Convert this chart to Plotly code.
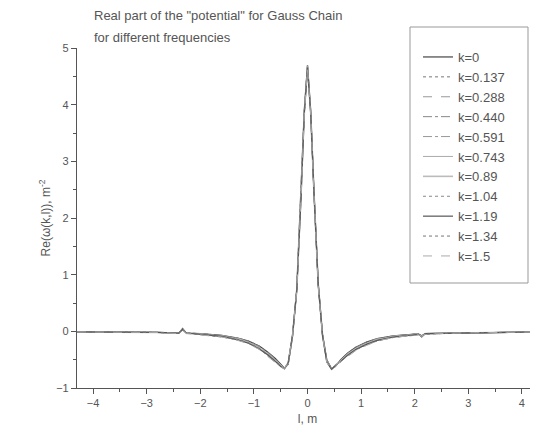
import plotly.graph_objects as go

# l grid, m
l = [-4.3, -3.5, -2.8, -2.4, -2.33, -2.26, -2.0, -1.6, -1.3, -1.1, -0.9, -0.75, -0.6, -0.5,
     -0.43, -0.36, -0.28, -0.2, -0.12, -0.06, 0, 0.06, 0.12, 0.2, 0.28, 0.36, 0.45, 0.52,
     0.62, 0.75, 0.9, 1.1, 1.3, 1.6, 2.0, 2.07, 2.13, 2.2, 2.8, 3.5, 4.3]

k_labels = ["k=0", "k=0.137", "k=0.288", "k=0.440", "k=0.591", "k=0.743",
            "k=0.89", "k=1.04", "k=1.19", "k=1.34", "k=1.5"]

re_k0 = [-0.01, -0.01, -0.02, -0.03, 0.05, -0.03, -0.04, -0.07, -0.12, -0.17, -0.26, -0.36, -0.48, -0.58,
         -0.65, -0.58, -0.10, 0.75, 2.40, 3.90, 4.70, 3.90, 2.50, 0.85, -0.05, -0.50, -0.66, -0.62,
         -0.50, -0.38, -0.28, -0.19, -0.13, -0.08, -0.05, -0.05, -0.10, -0.04, -0.03, -0.02, -0.01]
re_k0137 = [-0.01, -0.01, -0.02, -0.03, 0.05, -0.03, -0.04, -0.07, -0.12, -0.17, -0.26, -0.36, -0.48, -0.58,
            -0.65, -0.58, -0.10, 0.75, 2.40, 3.90, 4.70, 3.90, 2.50, 0.85, -0.05, -0.50, -0.66, -0.62,
            -0.50, -0.38, -0.28, -0.19, -0.13, -0.08, -0.05, -0.05, -0.10, -0.04, -0.03, -0.02, -0.01]
re_k0288 = [-0.01, -0.01, -0.02, -0.03, 0.04, -0.03, -0.04, -0.07, -0.12, -0.18, -0.27, -0.37, -0.49, -0.59,
            -0.65, -0.58, -0.10, 0.74, 2.39, 3.88, 4.69, 3.88, 2.49, 0.84, -0.06, -0.51, -0.66, -0.62,
            -0.51, -0.39, -0.29, -0.20, -0.13, -0.08, -0.05, -0.05, -0.09, -0.04, -0.03, -0.02, -0.01]
re_k0440 = [-0.01, -0.01, -0.02, -0.03, 0.04, -0.03, -0.04, -0.08, -0.13, -0.18, -0.27, -0.37, -0.49, -0.59,
            -0.65, -0.57, -0.09, 0.75, 2.40, 3.89, 4.69, 3.89, 2.50, 0.85, -0.05, -0.51, -0.66, -0.61,
            -0.51, -0.39, -0.29, -0.20, -0.14, -0.09, -0.05, -0.05, -0.09, -0.04, -0.03, -0.02, -0.01]
re_k0591 = [-0.01, -0.01, -0.02, -0.03, 0.04, -0.03, -0.05, -0.08, -0.13, -0.19, -0.28, -0.38, -0.50, -0.60,
            -0.65, -0.57, -0.09, 0.74, 2.38, 3.87, 4.68, 3.87, 2.48, 0.84, -0.06, -0.52, -0.66, -0.61,
            -0.51, -0.40, -0.30, -0.21, -0.14, -0.09, -0.06, -0.05, -0.09, -0.04, -0.03, -0.02, -0.01]
re_k0743 = [-0.01, -0.01, -0.02, -0.03, 0.04, -0.03, -0.05, -0.08, -0.13, -0.19, -0.29, -0.39, -0.51, -0.60,
            -0.66, -0.57, -0.09, 0.74, 2.38, 3.86, 4.67, 3.86, 2.48, 0.83, -0.06, -0.52, -0.67, -0.61,
            -0.52, -0.41, -0.31, -0.22, -0.15, -0.09, -0.06, -0.05, -0.09, -0.04, -0.03, -0.02, -0.01]
re_k089 = [-0.01, -0.01, -0.02, -0.03, 0.03, -0.03, -0.05, -0.09, -0.14, -0.20, -0.30, -0.40, -0.52, -0.61,
           -0.66, -0.56, -0.08, 0.73, 2.37, 3.85, 4.66, 3.85, 2.47, 0.83, -0.07, -0.53, -0.67, -0.60,
           -0.52, -0.41, -0.31, -0.22, -0.15, -0.10, -0.06, -0.05, -0.08, -0.04, -0.03, -0.02, -0.01]
re_k104 = [-0.01, -0.01, -0.02, -0.03, 0.03, -0.03, -0.05, -0.09, -0.14, -0.20, -0.30, -0.40, -0.52, -0.61,
           -0.66, -0.56, -0.08, 0.73, 2.36, 3.85, 4.66, 3.85, 2.46, 0.82, -0.07, -0.53, -0.67, -0.60,
           -0.53, -0.42, -0.32, -0.23, -0.16, -0.10, -0.06, -0.05, -0.08, -0.04, -0.03, -0.02, -0.01]
re_k119 = [-0.01, -0.01, -0.02, -0.03, 0.03, -0.03, -0.05, -0.09, -0.15, -0.21, -0.31, -0.41, -0.53, -0.62,
           -0.66, -0.55, -0.07, 0.72, 2.35, 3.84, 4.65, 3.84, 2.46, 0.82, -0.07, -0.54, -0.67, -0.60,
           -0.53, -0.42, -0.32, -0.23, -0.16, -0.10, -0.06, -0.05, -0.08, -0.04, -0.03, -0.02, -0.01]
re_k134 = [-0.01, -0.01, -0.02, -0.03, 0.03, -0.03, -0.06, -0.10, -0.15, -0.21, -0.31, -0.42, -0.54, -0.62,
           -0.66, -0.55, -0.07, 0.72, 2.35, 3.83, 4.64, 3.83, 2.45, 0.81, -0.08, -0.54, -0.67, -0.59,
           -0.54, -0.43, -0.33, -0.24, -0.17, -0.11, -0.07, -0.06, -0.08, -0.05, -0.03, -0.02, -0.01]
re_k15 = [-0.01, -0.01, -0.02, -0.04, 0.02, -0.04, -0.06, -0.10, -0.16, -0.22, -0.32, -0.43, -0.55, -0.63,
          -0.66, -0.54, -0.06, 0.71, 2.34, 3.82, 4.63, 3.82, 2.44, 0.80, -0.08, -0.55, -0.67, -0.59,
          -0.54, -0.44, -0.34, -0.25, -0.17, -0.11, -0.07, -0.06, -0.08, -0.05, -0.03, -0.02, -0.01]

series = [re_k0, re_k0137, re_k0288, re_k0440, re_k0591, re_k0743,
          re_k089, re_k104, re_k119, re_k134, re_k15]
colors = ["#444", "#777", "#999", "#888", "#999", "#aaa", "#bbb", "#888", "#555", "#777", "#aaa"]
dashes = ["solid", "dot", "dash", "dashdot", "dashdot", "solid", "solid", "dot", "solid", "dot", "dash"]
widths = [1.2, 1, 1, 1, 1, 1, 1.6, 1, 1.2, 1, 1]

fig = go.Figure()
for name, y, c, d, w in zip(k_labels, series, colors, dashes, widths):
    fig.add_trace(go.Scatter(x=l, y=y, name=name, mode="lines",
                             line=dict(color=c, dash=d, width=w)))

axis_common = dict(showline=True, linecolor="#555", linewidth=1.2, ticks="outside",
                   tickcolor="#555", ticklen=5, showgrid=False, zeroline=False,
                   tickfont=dict(size=11, color="#555"),
                   minor=dict(ticks="outside", ticklen=3, tickcolor="#555"))

fig.update_xaxes(range=[-4.3, 4.3], dtick=1, minor_dtick=0.5,
                 title=dict(text="l, m", font=dict(size=12, color="#555"), standoff=6),
                 **axis_common)
fig.update_yaxes(range=[-1, 5], dtick=1, minor_dtick=0.5,
                 title=dict(text="Re(ω(k,l)), m<sup>-2</sup>", font=dict(size=12, color="#555"), standoff=2),
                 **axis_common)

# title lines as separate annotations to get the wide line spacing
title_lines = ['Real part of the "potential" for Gauss Chain', "for different frequencies"]
for txt, yy in zip(title_lines, [1.095, 1.031]):
    fig.add_annotation(text=txt, xref="paper", yref="paper", x=(85 - 69) / 461, y=yy,
                       xanchor="left", yanchor="middle", showarrow=False, borderpad=0,
                       font=dict(size=13, color="#555"))

# legend frame
fig.add_shape(type="rect", xref="paper", yref="paper",
              x0=(402 - 69) / 461, x1=(520 - 69) / 461,
              y0=1 + (40 - 275) / 340, y1=1 + (40 - 19) / 340,
              line=dict(color="#999", width=1), fillcolor="white", layer="below")

fig.update_layout(
    width=530, height=437,
    margin=dict(l=69, r=0, t=40, b=57),
    paper_bgcolor="white", plot_bgcolor="rgba(0,0,0,0)",
    font=dict(family="Liberation Sans, Arial, sans-serif", color="#555"),
    legend=dict(x=(410 - 69) / 461, y=1 + (40 - 34) / 340, xanchor="left", yanchor="top",
                bgcolor="rgba(0,0,0,0)", borderwidth=0, maxheight=400,
                font=dict(size=13, color="#555"), tracegroupgap=0,
                itemwidth=30),
    showlegend=True,
)

fig.write_html("out.html")
